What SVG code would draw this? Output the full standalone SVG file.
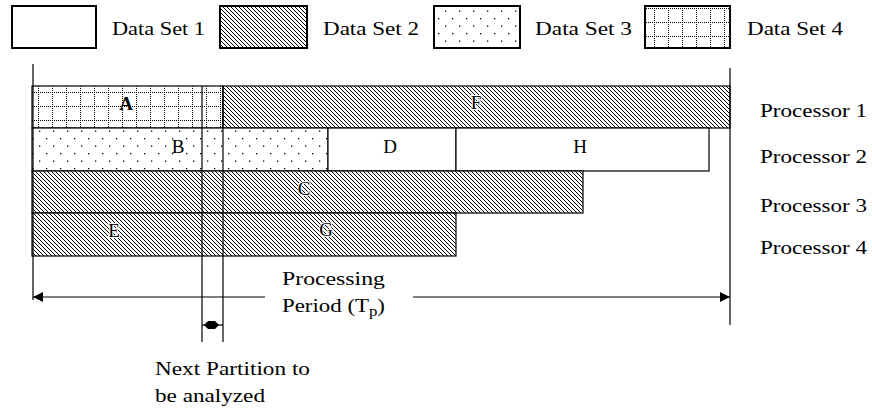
<svg xmlns="http://www.w3.org/2000/svg" width="872" height="412" viewBox="0 0 872 412">
<style>
text{font-family:'Liberation Serif','DejaVu Serif','Times New Roman',serif;font-size:19px;fill:#000}
.lbl{text-anchor:middle}
.box{stroke:#000;stroke-width:1.2}
.lg{stroke:#000;stroke-width:2}
.ln{stroke:#000;stroke-width:1.2;fill:none}
</style>
<defs>
<pattern id="hatch" patternUnits="userSpaceOnUse" width="4" height="4">
<rect width="4" height="4" fill="#fff"/>
<path d="M-1,-1 L5,5 M-1,3 L1,5 M3,-1 L5,1" stroke="#000" stroke-width="1"/>
</pattern>
<pattern id="dots" patternUnits="userSpaceOnUse" width="14" height="15" x="0" y="0">
<rect width="14" height="15" fill="#fff"/>
<rect x="4" y="3" width="1.3" height="1.3" fill="#000"/>
<rect x="11" y="10.5" width="1.3" height="1.3" fill="#000"/>
</pattern>
<pattern id="grid" patternUnits="userSpaceOnUse" width="14" height="14" x="38" y="92">
<rect width="14" height="14" fill="#fff"/>
<path d="M0,0.5 H14" stroke="#000" stroke-width="1" stroke-dasharray="1,1"/>
<path d="M0.5,0 V14" stroke="#000" stroke-width="1" stroke-dasharray="1,1"/>
</pattern>
<marker id="arr" viewBox="0 0 10 10" refX="10" refY="5" markerWidth="14" markerHeight="10" markerUnits="userSpaceOnUse" orient="auto-start-reverse">
<path d="M0,0 L10,5 L0,10 Z" fill="#000"/>
</marker>
</defs>
<rect width="872" height="412" fill="#fff"/>

<g id="legend">
<g id="legend-ds1"><rect class="lg" x="12" y="6" width="84" height="42" fill="#fff"/><text x="112" y="35" textLength="93" lengthAdjust="spacingAndGlyphs">Data Set 1</text></g>
<g id="legend-ds2"><rect class="lg" x="220" y="6" width="87" height="42" fill="url(#hatch)"/><text x="323" y="35" textLength="96" lengthAdjust="spacingAndGlyphs">Data Set 2</text></g>
<g id="legend-ds3"><rect class="lg" x="434" y="6" width="86" height="42" fill="url(#dots)"/><text x="535" y="35" textLength="97" lengthAdjust="spacingAndGlyphs">Data Set 3</text></g>
<g id="legend-ds4"><rect class="lg" x="645" y="6" width="85" height="42" fill="url(#grid)"/><text x="747" y="35" textLength="96" lengthAdjust="spacingAndGlyphs">Data Set 4</text></g>
</g>

<g id="task-A"><rect class="box" x="32" y="86" width="191" height="42" fill="url(#grid)"/><text class="lbl" x="126" y="110" font-weight="bold">A</text></g>
<g id="task-F"><rect class="box" x="223" y="86" width="507" height="42" fill="url(#hatch)"/><text class="lbl" x="476" y="109" style="paint-order:stroke" stroke="#fff" stroke-width="2">F</text></g>
<g id="task-B"><rect class="box" x="32" y="128" width="296" height="43" fill="url(#dots)"/><text class="lbl" x="178" y="153">B</text></g>
<g id="task-D"><rect class="box" x="328" y="128" width="128" height="43" fill="#fff"/><text class="lbl" x="390" y="153">D</text></g>
<g id="task-H"><rect class="box" x="456" y="128" width="253" height="43" fill="#fff"/><text class="lbl" x="580" y="153">H</text></g>
<g id="task-C"><rect class="box" x="32" y="171" width="551" height="42" fill="url(#hatch)"/><text class="lbl" x="304" y="195" style="paint-order:stroke" stroke="#fff" stroke-width="2">C</text></g>
<g id="task-E"><rect class="box" x="32" y="213" width="424" height="43" fill="url(#hatch)"/><text class="lbl" x="114" y="237" style="paint-order:stroke" stroke="#fff" stroke-width="2">E</text><text class="lbl" x="326" y="236" style="paint-order:stroke" stroke="#fff" stroke-width="2">G</text></g>

<g id="processors">
<text x="760" y="117" textLength="107" lengthAdjust="spacingAndGlyphs">Processor 1</text>
<text x="760" y="163" textLength="107" lengthAdjust="spacingAndGlyphs">Processor 2</text>
<text x="760" y="212" textLength="107" lengthAdjust="spacingAndGlyphs">Processor 3</text>
<text x="760" y="254" textLength="107" lengthAdjust="spacingAndGlyphs">Processor 4</text>
</g>

<g id="connectors">
<line class="ln" x1="33" y1="64" x2="33" y2="300"/>
<line class="ln" x1="730" y1="68" x2="730" y2="325"/>
<line class="ln" x1="202" y1="86" x2="202" y2="342"/>
<line class="ln" x1="223" y1="86" x2="223" y2="342"/>
<line class="ln" x1="265" y1="297" x2="33" y2="297" marker-end="url(#arr)"/>
<line class="ln" x1="413" y1="297" x2="730" y2="297" marker-end="url(#arr)"/>
<line class="ln" x1="202" y1="325" x2="223" y2="325"/>
<polygon points="204,325 208,321 215,321 219,325 215,329 208,329" fill="#000"/>
</g>

<g id="period-label">
<text x="282" y="285" textLength="103" lengthAdjust="spacingAndGlyphs">Processing</text>
<text x="282" y="312" textLength="103" lengthAdjust="spacingAndGlyphs">Period (T<tspan font-size="14" dy="4">p</tspan><tspan dy="-4">)</tspan></text>
</g>
<g id="next-label">
<text x="155" y="375" textLength="155" lengthAdjust="spacingAndGlyphs">Next Partition to</text>
<text x="155" y="402" textLength="110" lengthAdjust="spacingAndGlyphs">be analyzed</text>
</g>
</svg>
